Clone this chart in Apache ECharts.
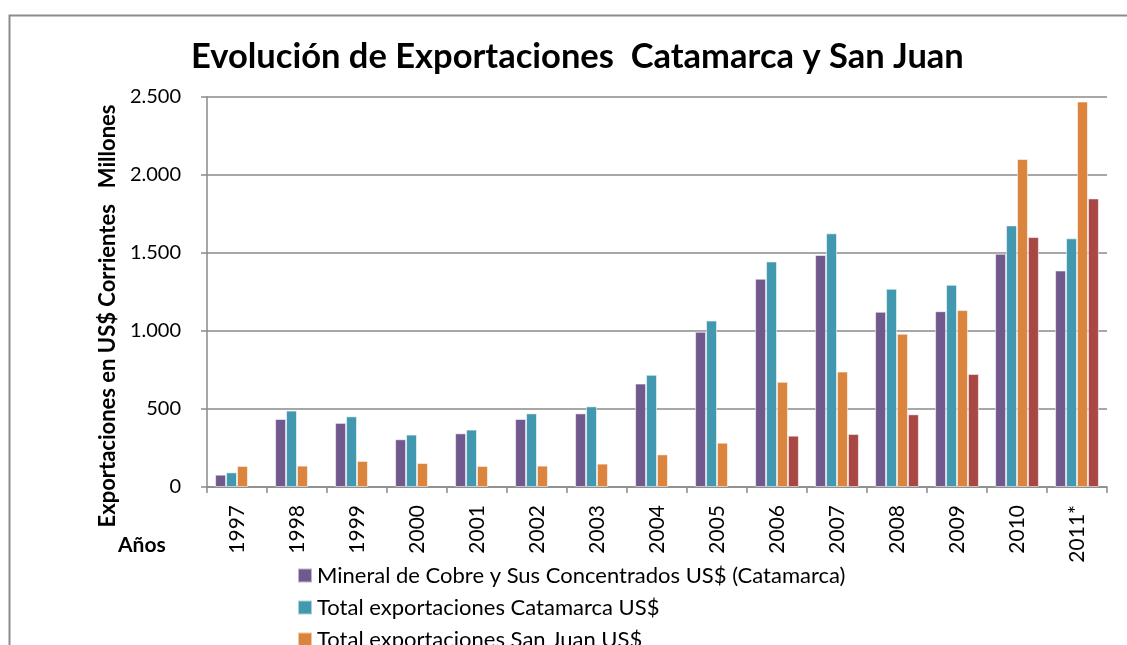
<!DOCTYPE html>
<html>
<head>
<meta charset="utf-8">
<title>Evolución de Exportaciones Catamarca y San Juan</title>
<script src="https://cdn.jsdelivr.net/npm/echarts@6/dist/echarts.min.js"></script>
<style>
  html, body { margin: 0; padding: 0; background: #fff; }
  #chart { width: 1127px; height: 645px; }
</style>
</head>
<body>
<div id="chart"></div>
<script>
// años (2011 provisorio)
const years = ['1997','1998','1999','2000','2001','2002','2003','2004','2005','2006','2007','2008','2009','2010','2011*']

// millones de US$ corrientes
const cobreCatamarca = [79, 436, 411, 306, 344, 436, 472, 663, 995, 1335, 1487, 1123, 1127, 1495, 1388]
const totalCatamarca = [94, 490, 453, 336, 368, 472, 517, 719, 1067, 1446, 1626, 1271, 1296, 1677, 1594]
const totalSanJuan = [135, 137, 167, 154, 135, 137, 150, 209, 284, 674, 740, 982, 1134, 2103, 2471]
const mineriaSanJuan = [null, null, null, null, null, null, null, null, null, 329, 340, 466, 725, 1602, 1850]

const seriesNames = [
  'Mineral de Cobre y Sus Concentrados US$ (Catamarca)',
  'Total exportaciones Catamarca US$',
  'Total exportaciones San Juan US$',
  'Exportaciones mineras San Juan US$'
]
const colors = ['#71598e', '#4298af', '#db843d', '#a94745']

const font = 'Lato, "Open Sans", sans-serif'
const gridColor = '#8a8a8a'

const chart = echarts.init(document.getElementById('chart'))

const fmt = v => String(v).replace(/\B(?=(\d{3})+(?!\d))/g, '.')

const makeBar = (i, data) => ({
  name: seriesNames[i],
  type: 'bar',
  data: data,
  barGap: '0%',
  barCategoryGap: '27%',
  itemStyle: {
    color: colors[i],
    borderColor: 'rgba(255,255,255,0.55)',
    borderWidth: 1
  }
})

chart.setOption({
  backgroundColor: '#fff',
  animation: false,
  title: {
    text: 'Evolución de Exportaciones  Catamarca y San Juan',
    left: 186,
    top: 34,
    textStyle: { fontFamily: font, fontWeight: 'bold', fontSize: 34.5, color: '#000' }
  },
  legend: {
    data: seriesNames.slice(0, 3),
    orient: 'vertical',
    left: 292,
    top: 558,
    height: 140,
    itemWidth: 14,
    itemHeight: 14,
    itemGap: 7,
    icon: 'rect',
    textStyle: { fontFamily: font, fontSize: 22, color: '#000', lineHeight: 25 }
  },
  grid: { left: 207, right: 20, top: 97, bottom: 158 },
  xAxis: {
    type: 'category',
    data: years,
    axisLine: { lineStyle: { color: gridColor, width: 1.5 } },
    axisTick: { show: true, length: 6, lineStyle: { color: gridColor, width: 1.5 } },
    axisLabel: {
      rotate: 90,
      margin: 18,
      interval: 0,
      fontFamily: font,
      fontSize: 21,
      color: '#000'
    }
  },
  yAxis: {
    type: 'value',
    min: 0,
    max: 2500,
    interval: 500,
    name: 'Exportaciones en US$ Corrientes   Millones',
    nameLocation: 'middle',
    nameGap: 84,
    nameTextStyle: {
      fontFamily: font,
      fontWeight: 'bold',
      fontSize: 22,
      color: '#000',
      padding: [0, 48, 0, 0]
    },
    axisLine: { show: true, lineStyle: { color: gridColor, width: 1.5 } },
    axisTick: { show: true, length: 6, lineStyle: { color: gridColor, width: 1.5 } },
    splitLine: { lineStyle: { color: gridColor, width: 1.5 } },
    axisLabel: {
      margin: 26,
      fontFamily: font,
      fontSize: 20,
      color: '#000',
      formatter: fmt
    }
  },
  graphic: [
    {
      type: 'rect',
      left: 7,
      top: 13,
      shape: { width: 1130, height: 700 },
      style: { fill: 'none', stroke: '#8c8c8c', lineWidth: 2 },
      silent: true
    },
    {
      type: 'text',
      left: 118,
      top: 535,
      style: { text: 'Años', fontFamily: font, fontWeight: 'bold', fontSize: 21, fill: '#000' }
    }
  ],
  series: [
    makeBar(0, cobreCatamarca),
    makeBar(1, totalCatamarca),
    makeBar(2, totalSanJuan),
    makeBar(3, mineriaSanJuan)
  ]
})
</script>
</body>
</html>
